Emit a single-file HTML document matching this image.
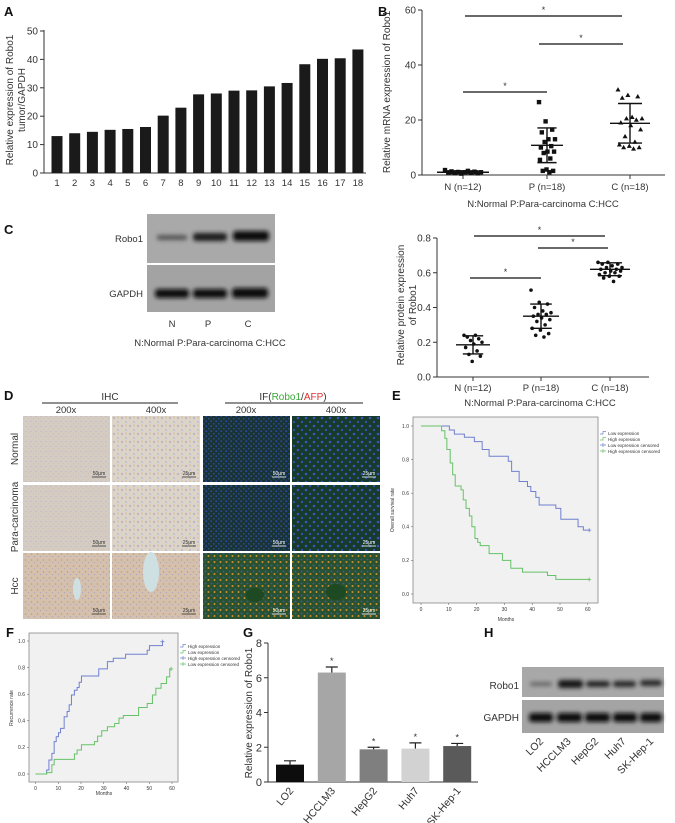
<!DOCTYPE html>
<html><head><meta charset="utf-8"><style>
html,body{margin:0;padding:0;background:#fff}
svg{display:block;font-family:"Liberation Sans",Arial,sans-serif}
text{fill:#333}
.pl{font-weight:bold;font-size:13px;fill:#111}
</style></head><body>
<svg id="fig" width="675" height="823" viewBox="0 0 675 823" xmlns="http://www.w3.org/2000/svg">
<defs>
<filter id="blur" x="-50%" y="-100%" width="200%" height="300%"><feGaussianBlur stdDeviation="2.2"/></filter>
<pattern id="ihc" width="5" height="5" patternUnits="userSpaceOnUse"><rect width="5" height="5" fill="#d4ccc3"/><circle cx="1" cy="1.5" r="0.5" fill="#aeaecb"/><circle cx="3.5" cy="3.8" r="0.6" fill="#d6bea4"/></pattern>
<pattern id="ihc4" width="8" height="8" patternUnits="userSpaceOnUse"><rect width="8" height="8" fill="#dcd4c9"/><circle cx="2" cy="2" r="0.9" fill="#9fa1cc"/><circle cx="6" cy="6" r="0.8" fill="#a9a8cb"/><circle cx="6" cy="1.5" r="1.1" fill="#dcc3a3"/></pattern>
<pattern id="ihcH" width="6" height="6" patternUnits="userSpaceOnUse"><rect width="6" height="6" fill="#d4c0ac"/><circle cx="1.5" cy="2" r="0.8" fill="#c49e7f"/><circle cx="4.5" cy="4.5" r="0.6" fill="#ada6bc"/></pattern>
<pattern id="if" width="5" height="5" patternUnits="userSpaceOnUse"><rect width="5" height="5" fill="#1a3436"/><circle cx="1.2" cy="1.2" r="0.9" fill="#2d48a8"/><circle cx="3.8" cy="3.8" r="0.8" fill="#2a5296"/></pattern>
<pattern id="if4" width="8" height="8" patternUnits="userSpaceOnUse"><rect width="8" height="8" fill="#173a2a"/><circle cx="2" cy="2" r="1.3" fill="#3656c0"/><circle cx="6" cy="6" r="1.2" fill="#3152b2"/></pattern>
<pattern id="ifH" width="6" height="6" patternUnits="userSpaceOnUse"><rect width="6" height="6" fill="#2a5230"/><circle cx="1.5" cy="1.5" r="0.9" fill="#3a58bb"/><circle cx="4.5" cy="4" r="1" fill="#c89235"/></pattern>
</defs>

<text class="pl" x="4" y="16">A</text>
<text class="pl" x="378" y="16">B</text>
<text class="pl" x="4" y="234">C</text>
<text class="pl" x="4" y="400">D</text>
<text class="pl" x="392" y="400">E</text>
<text class="pl" x="6" y="637">F</text>
<text class="pl" x="243" y="637">G</text>
<text class="pl" x="484" y="637">H</text>

<g id="gA">
<line x1="44" y1="30" x2="44" y2="173" stroke="#333" stroke-width="1"/>
<line x1="44" y1="173" x2="366" y2="173" stroke="#333" stroke-width="1"/>
<text transform="translate(13,100) rotate(-90)" font-size="10" text-anchor="middle">Relative expression of Robo1</text>
<text transform="translate(25,100) rotate(-90)" font-size="10" text-anchor="middle">tumor/GAPDH</text>
</g>

<g id="gB">
<line x1="422" y1="10" x2="422" y2="175" stroke="#333"/>
<line x1="422" y1="175" x2="665" y2="175" stroke="#333"/>
<text transform="translate(390,92) rotate(-90)" font-size="10" text-anchor="middle">Relative mRNA expression of Robo1</text>
<text x="543" y="207" font-size="9.5" text-anchor="middle">N:Normal P:Para-carcinoma C:HCC</text>
</g>

<g>
<rect x="147" y="214" width="128" height="49" fill="#a9a9a9"/>
<rect x="147" y="265" width="128" height="47" fill="#a3a3a3"/>
<g filter="url(#blur)">
<rect x="157" y="235" width="30" height="5" rx="2" fill="#555"/>
<rect x="193" y="233" width="34" height="8" rx="3" fill="#1c1c1c"/>
<rect x="233" y="231" width="36" height="10" rx="3" fill="#0c0c0c"/>
<rect x="155" y="289" width="34" height="9" rx="3" fill="#111"/>
<rect x="193" y="289" width="34" height="9" rx="3" fill="#111"/>
<rect x="232" y="288" width="36" height="10" rx="3" fill="#111"/>
</g>
<text x="143" y="242" font-size="9.5" text-anchor="end">Robo1</text>
<text x="143" y="297" font-size="9.5" text-anchor="end">GAPDH</text>
<text x="172" y="327" font-size="9.5" text-anchor="middle">N</text>
<text x="208" y="327" font-size="9.5" text-anchor="middle">P</text>
<text x="248" y="327" font-size="9.5" text-anchor="middle">C</text>
<text x="210" y="346" font-size="9.5" text-anchor="middle">N:Normal P:Para-carcinoma C:HCC</text>
</g>

<g id="gC">
<line x1="437" y1="238" x2="437" y2="377" stroke="#333"/>
<line x1="437" y1="377" x2="649" y2="377" stroke="#333"/>
<text transform="translate(404,305) rotate(-90)" font-size="10" text-anchor="middle">Relative protein expression</text>
<text transform="translate(416,305) rotate(-90)" font-size="10" text-anchor="middle">of Robo1</text>
<text x="540" y="406" font-size="9.5" text-anchor="middle">N:Normal P:Para-carcinoma C:HCC</text>
</g>

<g>
<text x="110" y="400" font-size="10" text-anchor="middle">IHC</text>
<line x1="42" y1="403" x2="178" y2="403" stroke="#222"/>
<text x="293" y="400" font-size="10" text-anchor="middle">IF(<tspan fill="#3aa83a">Robo1</tspan>/<tspan fill="#e03030">AFP</tspan>)</text>
<line x1="225" y1="403" x2="363" y2="403" stroke="#222"/>
<text x="66" y="413" font-size="9.5" text-anchor="middle">200x</text>
<text x="156" y="413" font-size="9.5" text-anchor="middle">400x</text>
<text x="246" y="413" font-size="9.5" text-anchor="middle">200x</text>
<text x="336" y="413" font-size="9.5" text-anchor="middle">400x</text>
<text transform="translate(18,449) rotate(-90)" font-size="10" text-anchor="middle">Normal</text>
<text transform="translate(18,517) rotate(-90)" font-size="10" text-anchor="middle">Para-carcinoma</text>
<text transform="translate(18,586) rotate(-90)" font-size="10" text-anchor="middle">Hcc</text>
<g id="gD"></g>
</g>

<g id="gE">
<rect x="413" y="417" width="185" height="186" fill="#f1f1f1" stroke="#888" stroke-width="0.8"/>
<text transform="translate(394,510) rotate(-90)" font-size="5" text-anchor="middle">Overall survival rate</text>
<text x="506" y="621" font-size="5" text-anchor="middle">Months</text>
</g>

<g id="gF">
<rect x="29" y="633" width="149" height="149" fill="#f1f1f1" stroke="#888" stroke-width="0.8"/>
<text transform="translate(13,708) rotate(-90)" font-size="5" text-anchor="middle">Recurrence rate</text>
<text x="104" y="795" font-size="5" text-anchor="middle">Months</text>
</g>

<g id="gG">
<line x1="268" y1="643" x2="268" y2="782" stroke="#333"/>
<line x1="268" y1="782" x2="478" y2="782" stroke="#333"/>
<text transform="translate(252,713) rotate(-90)" font-size="10" text-anchor="middle">Relative expression of Robo1</text>
</g>

<g>
<rect x="522" y="667" width="142" height="30" fill="#a8a8a8"/>
<rect x="522" y="700" width="142" height="33" fill="#a4a4a4"/>
<g filter="url(#blur)">
<rect x="530" y="682" width="22" height="4" rx="2" fill="#666"/>
<rect x="558" y="680" width="25" height="8" rx="3" fill="#151515"/>
<rect x="586" y="681" width="24" height="6" rx="3" fill="#222"/>
<rect x="613" y="681" width="23" height="6" rx="3" fill="#252525"/>
<rect x="640" y="680" width="22" height="6" rx="3" fill="#252525"/>
<rect x="529" y="713" width="24" height="9" rx="3" fill="#111"/>
<rect x="557" y="713" width="25" height="9" rx="3" fill="#111"/>
<rect x="585" y="713" width="25" height="9" rx="3" fill="#111"/>
<rect x="613" y="713" width="24" height="9" rx="3" fill="#111"/>
<rect x="640" y="713" width="22" height="9" rx="3" fill="#111"/>
</g>
<text x="519" y="689" font-size="10" text-anchor="end">Robo1</text>
<text x="519" y="721" font-size="10" text-anchor="end">GAPDH</text>
<g id="gH"></g>
</g>
</svg>

<script>
const aCategories = ["1","2","3","4","5","6","7","8","9","10","11","12","13","14","15","16","17","18"];
const aValues = [13,14,14.5,15.2,15.5,16.2,20.2,23,27.7,28,29,29.1,30.5,31.7,38.3,40.2,40.4,43.5];
const aTicks = [0,10,20,30,40,50];

const bCategories = ["N (n=12)","P (n=18)","C (n=18)"];
const bN = [1.8,1.5,1.3,1.2,1.1,1.0,1.0,0.9,0.8,0.7,0.6,0.5];
const bP = [26.5,19.5,16.5,15.5,13,13,12,10.5,10,8.5,8.5,8,6,5.5,2,1.5,1.5,1];
const bC = [31,29,28.5,28,21,20.5,20.5,20,19,18,16.5,14,12,11,10.5,10,10,9.5];
const bMean = [1.0,10.8,18.8];
const bSD = [0.5,6.3,7.2];
const bTicks = [0,20,40,60];

const cCategories = ["N (n=12)","P (n=18)","C (n=18)"];
const cN = [0.24,0.24,0.23,0.22,0.21,0.2,0.19,0.17,0.15,0.13,0.12,0.09];
const cP = [0.5,0.43,0.42,0.4,0.38,0.37,0.36,0.36,0.35,0.34,0.33,0.32,0.3,0.28,0.27,0.25,0.24,0.23];
const cC = [0.66,0.66,0.65,0.65,0.64,0.63,0.63,0.62,0.62,0.61,0.61,0.6,0.6,0.59,0.58,0.58,0.57,0.55];
const cMean = [0.185,0.35,0.62];
const cSD = [0.052,0.07,0.037];
const cTicks = [0,0.2,0.4,0.6,0.8];

const eLowTimes = [10.2,12,15.6,19.2,22,24.5,31.4,32.6,35.3,38.3,39.5,41.3,42.5,48.5,50.3,56.5,58.4];
const eLowValues = [0.976,0.952,0.933,0.907,0.86,0.82,0.79,0.73,0.67,0.64,0.61,0.575,0.53,0.51,0.445,0.40,0.38];
const eHighTimes = [7.4,8.6,9.3,10.5,11.4,12.3,14.4,15.2,16.2,17.4,18.3,19.4,20.4,21.3,24.5,29.3,32.3,36.5,45.5,48.5];
const eHighValues = [0.972,0.926,0.86,0.78,0.71,0.643,0.62,0.56,0.51,0.464,0.40,0.33,0.307,0.288,0.24,0.20,0.153,0.13,0.11,0.087];
const eEnd = 60.5;
const eLegend = ["Low expression","High expression","Low expression censored","High expression censored"];
const kmXTicks = [0,10,20,30,40,50,60];
const kmYTicks = [0,0.2,0.4,0.6,0.8,1.0];

const fHighTimes = [4.9,5.9,7.2,8.2,9.1,10.1,11.0,12.6,13.9,14.8,15.8,17.1,18.3,19.2,20.2,27.8,31.6,34.2,39.6,49.1,50.1,55.8];
const fHighValues = [0.03,0.105,0.155,0.243,0.28,0.31,0.343,0.43,0.47,0.52,0.594,0.63,0.65,0.69,0.737,0.79,0.845,0.87,0.9,0.93,0.965,0.995];
const fLowTimes = [4.9,7.2,8.2,17.1,18.3,20.2,25.9,27.3,29.1,31.6,34.8,36.7,38.6,45.3,49.1,51.4,52.9,55.2,57.6,59];
const fLowValues = [0.01,0.07,0.11,0.15,0.18,0.22,0.243,0.285,0.325,0.355,0.38,0.42,0.44,0.5,0.53,0.594,0.645,0.68,0.73,0.79];
const fHighEnd = 55.8, fLowEnd = 59.6;
const fLegend = ["High expression","Low expression","High expression censored","Low expression censored"];

const gCategories = ["LO2","HCCLM3","HepG2","Huh7","SK-Hep-1"];
const gValues = [1.0,6.3,1.88,1.92,2.07];
const gErrors = [0.22,0.32,0.12,0.33,0.15];
const gSig = [false,true,true,true,true];
const gTicks = [0,2,4,6,8];

const hLanes = ["LO2","HCCLM3","HepG2","Huh7","SK-Hep-1"];

const NS = "http://www.w3.org/2000/svg";
function mk(tag, attrs, parent){const e=document.createElementNS(NS,tag);for(const k in attrs)e.setAttribute(k,attrs[k]);parent.appendChild(e);return e;}
function txt(s, attrs, parent){const e=mk('text',attrs,parent);e.textContent=s;return e;}

const gA=document.getElementById('gA');
const yA=v=>173-v*2.84, xA=i=>57+i*17.7;
aTicks.forEach(t=>{
  const l=mk('line',{x1:40,x2:44,y1:yA(t),y2:yA(t),stroke:'#333'},gA);
  
  
  const s=txt(String(t),{x:38,y:yA(t)+3.5,'font-size':10,'text-anchor':'end'},gA);
  
  
});
aValues.forEach((v,i)=>{
  const r=mk('rect',{x:xA(i)-5.5,y:yA(v),width:11,height:yA(0)-yA(v),fill:'#1a1a1a'},gA);
  
  
  const s=txt(aCategories[i],{x:xA(i),y:186,'font-size':9.5,'text-anchor':'middle'},gA);
  
  
});

function scatter(g, prefix, cats, groups, means, sds, xs, yf, ticks, tickFmt, xAxisX, spreads, markers, sig, catY){
  ticks.forEach(t=>{
    const l=mk('line',{x1:xAxisX-4,x2:xAxisX,y1:yf(t),y2:yf(t),stroke:'#333'},g);
    
    
    const s=txt(tickFmt(t),{x:xAxisX-6,y:yf(t)+3.5,'font-size':10,'text-anchor':'end'},g);
    
    
  });
  cats.forEach((c,ci)=>{
    const cx=xs[ci];
    const tk=mk('line',{x1:cx,x2:cx,y1:yf(0),y2:yf(0)+4,stroke:'#333'},g);
    
    
    const s=txt(c,{x:cx,y:catY,'font-size':9.5,'text-anchor':'middle'},g);
    
    
    groups[ci].forEach((v,i)=>{
      const off=((i*7)%groups[ci].length/(groups[ci].length-1)-0.5)*2*spreads[ci];
      const x=cx+off, y=yf(v);
      let m;
      if(markers[ci]==='sq') m=mk('rect',{x:x-2.2,y:y-2.2,width:4.4,height:4.4,fill:'#111'},g);
      else if(markers[ci]==='tri') m=mk('polygon',{points:`${x},${y-2.6} ${x-2.5},${y+1.8} ${x+2.5},${y+1.8}`,fill:'#111'},g);
      else m=mk('circle',{cx:x,cy:y,r:1.8,fill:'#111'},g);
      
      
    });
    const mean=means[ci], sd=sds[ci], hw=spreads[ci]+8;
    const ml=mk('line',{x1:cx-hw,x2:cx+hw,y1:yf(mean),y2:yf(mean),stroke:'#111','stroke-width':1.4},g);
    
    
    const el=mk('path',{d:`M${cx},${yf(mean+sd)}V${yf(Math.max(0,mean-sd))}M${cx-hw*0.6},${yf(mean+sd)}H${cx+hw*0.6}M${cx-hw*0.6},${yf(Math.max(0,mean-sd))}H${cx+hw*0.6}`,stroke:'#111','stroke-width':1.4,fill:'none'},g);
    
    
  });
  sig.forEach(s=>{
    const l=mk('line',{x1:s[0],x2:s[1],y1:s[2],y2:s[2],stroke:'#111','stroke-width':1.2},g);
    
    
    const st=txt('*',{x:(s[0]+s[1])/2,y:s[2]-3,'font-size':9,'text-anchor':'middle'},g);
    
    
  });
}
const yB=v=>175-v*(165/60);
scatter(document.getElementById('gB'),'b',bCategories,[bN,bP,bC],bMean,bSD,[463,547,630],yB,bTicks,t=>String(t),422,[18,8,12],['sq','sq','tri'],
  [[465,622,16],[539,623,44],[463,547,92]],190);
const yC=v=>377-v*173.75;
scatter(document.getElementById('gC'),'c',cCategories,[cN,cP,cC],cMean,cSD,[473,541,610],yC,cTicks,t=>t.toFixed(1),437,[9,10,12],['dot','dot','dot'],
  [[474,605,236],[538,608,248],[470,541,278]],391);

const gD=document.getElementById('gD');
const cols=[23,112,203,292], widths=[87,88,87,88], rows=[416,485,553], heights=[66,66,66];
const fills=[['url(#ihc)','url(#ihc4)','url(#if)','url(#if4)'],['url(#ihc)','url(#ihc4)','url(#if)','url(#if4)'],['url(#ihcH)','url(#ihcH)','url(#ifH)','url(#ifH)']];
const rowNames=['normal','para','hcc'], colNames=['ihc-200x','ihc-400x','if-200x','if-400x'];
rows.forEach((ry,ri)=>cols.forEach((cx,ci)=>{
  const r=mk('rect',{x:cx,y:ry,width:widths[ci],height:heights[ri],fill:fills[ri][ci]},gD);
  
  
  const lbl=ci%2===0?'50μm':'25μm';
  const col=ci<2?'#333':'#fff';
  const bl=mk('line',{x1:cx+widths[ci]-18,x2:cx+widths[ci]-4,y1:ry+heights[ri]-5,y2:ry+heights[ri]-5,stroke:col,'stroke-width':0.8},gD);
  
  
  const t=txt(lbl,{x:cx+widths[ci]-11,y:ry+heights[ri]-7,'font-size':5,'text-anchor':'middle',fill:col,style:'fill:'+col},gD);
  
  
}));
[[151,572,8,20],[150,583,5,5]].forEach(b=>{
  const e=mk('ellipse',{cx:b[0],cy:b[1],rx:b[2],ry:b[3],fill:'#cfe0e2'},gD);
  
  
});
{const e=mk('ellipse',{cx:77,cy:589,rx:4,ry:11,fill:'#cfe0e2'},gD);

}
{const e=mk('ellipse',{cx:255,cy:595,rx:9,ry:7,fill:'#1d4a22'},gD);

}
{const e=mk('ellipse',{cx:336,cy:592,rx:10,ry:8,fill:'#1d4a22'},gD);

}

function stepPath(xf,yf,start,times,vals,end){
  let d=`M${xf(0)},${yf(start)}`;
  times.forEach((t,i)=>{d+=`H${xf(t)}V${yf(vals[i])}`;});
  d+=`H${xf(end)}`;return d;
}
function km(g,prefix,xf,yf,x0,y0,series,legend,legX,legY){
  kmXTicks.forEach(t=>{
    const l=mk('line',{x1:xf(t),x2:xf(t),y1:y0,y2:y0+2,stroke:'#555','stroke-width':0.5},g);
    
    
    const s=txt(String(t),{x:xf(t),y:y0+8,'font-size':5,'text-anchor':'middle'},g);
    
    
  });
  kmYTicks.forEach(t=>{
    const l=mk('line',{x1:x0-2,x2:x0,y1:yf(t),y2:yf(t),stroke:'#555','stroke-width':0.5},g);
    
    
    const s=txt(t.toFixed(1),{x:x0-4,y:yf(t)+1.8,'font-size':5,'text-anchor':'end'},g);
    
    
  });
  series.forEach(s=>{
    const p=mk('path',{d:stepPath(xf,yf,s.start,s.times,s.vals,s.end),stroke:s.color,'stroke-width':1,fill:'none'},g);
    
    
    const ex=xf(s.end), ey=yf(s.vals[s.vals.length-1]);
    const c=mk('path',{d:`M${ex-2},${ey}H${ex+2}M${ex},${ey-2}V${ey+2}`,stroke:s.color,'stroke-width':0.8},g);
    
    
  });
  legend.forEach((lab,i)=>{
    const col=series[i%2].color, y=legY+i*6;
    const l=mk('path',{d:i<2?`M${legX},${y+1}H${legX+3}V${y-1.5}H${legX+6}`:`M${legX},${y}H${legX+6}M${legX+3},${y-2}V${y+2}`,stroke:col,'stroke-width':0.7,fill:'none'},g);
    
    
    const t=txt(lab,{x:legX+8,y:y+1.8,'font-size':4.5},g);
    
    
  });
}
const xE=m=>421+m*2.78, yE=s=>594-s*168;
km(document.getElementById('gE'),'e',xE,yE,413,603,[
  {name:'low',color:'#7080d0',start:1,times:eLowTimes,vals:eLowValues,end:eEnd},
  {name:'high',color:'#66c266',start:1,times:eHighTimes,vals:eHighValues,end:eEnd}],eLegend,600,433);
const xF=m=>35.5+m*2.275, yF=r=>774-r*133;
km(document.getElementById('gF'),'f',xF,yF,29,782,[
  {name:'high',color:'#7080d0',start:0,times:fHighTimes,vals:fHighValues,end:fHighEnd},
  {name:'low',color:'#66c266',start:0,times:fLowTimes,vals:fLowValues,end:fLowEnd}],fLegend,180,646);

const gG=document.getElementById('gG');
const yG=v=>782-v*17.375, xG=i=>290+i*41.8;
const gColors=['#0d0d0d','#a6a6a6','#7f7f7f','#d2d2d2','#5a5a5a'];
gTicks.forEach(t=>{
  const l=mk('line',{x1:264,x2:268,y1:yG(t),y2:yG(t),stroke:'#333'},gG);
  
  
  const s=txt(String(t),{x:262,y:yG(t)+4,'font-size':11,'text-anchor':'end'},gG);
  
  
});
gValues.forEach((v,i)=>{
  const x=xG(i);
  const e=mk('path',{d:`M${x},${yG(v)}V${yG(v+gErrors[i])}M${x-6},${yG(v+gErrors[i])}H${x+6}`,stroke:'#222','stroke-width':1.2},gG);
  
  
  const r=mk('rect',{x:x-14,y:yG(v),width:28,height:yG(0)-yG(v),fill:gColors[i]},gG);
  
  
  if(gSig[i]){
    const st=txt('*',{x:x,y:yG(v+gErrors[i])-3,'font-size':9,'text-anchor':'middle'},gG);
    
    
  }
  const s=txt(gCategories[i],{transform:`translate(${x+4},${791}) rotate(-50)`,'font-size':10.5,'text-anchor':'end'},gG);
  
  
});

const gH=document.getElementById('gH');
hLanes.forEach((n,i)=>{
  const s=txt(n,{transform:`translate(${544+i*27.5},${742}) rotate(-45)`,'font-size':10.5,'text-anchor':'end'},gH);
  
  
});
</script>
</body></html>
